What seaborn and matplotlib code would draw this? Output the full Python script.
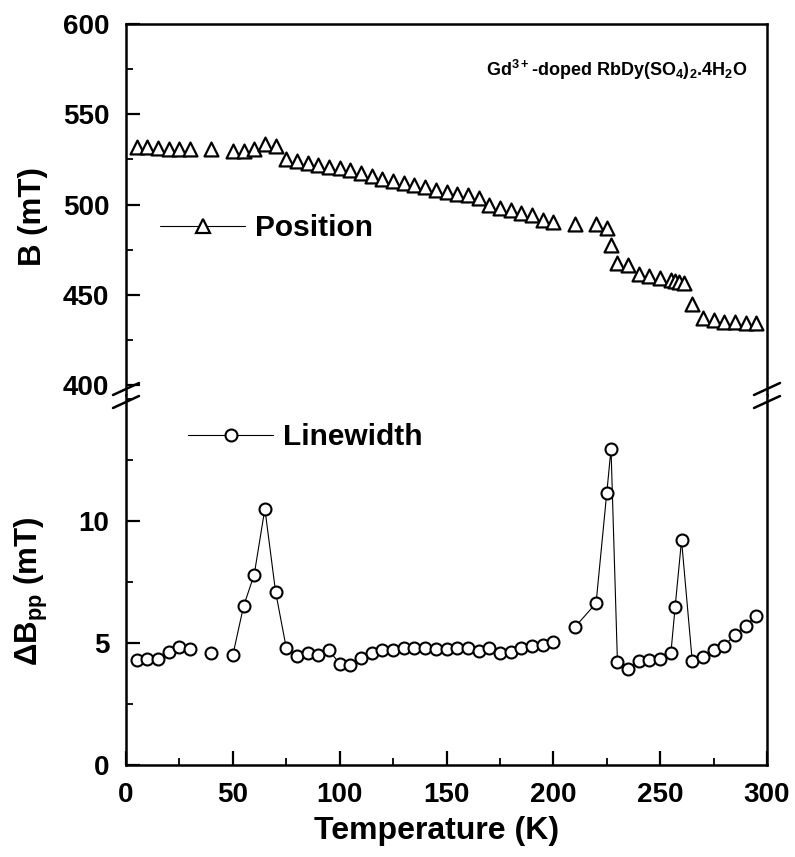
import numpy as np
import pandas as pd
import seaborn as sns
import matplotlib.pyplot as plt
from matplotlib.lines import Line2D
from matplotlib.ticker import MultipleLocator

# resonance position (top panel)
temp_pos = [5, 10, 15, 20, 25, 30, 40, 50, 55, 60, 65, 70, 75, 80, 85, 90, 95,
            100, 105, 110, 115, 120, 125, 130, 135, 140, 145, 150, 155, 160, 165,
            170, 175, 180, 185, 190, 195, 200, 210, 220, 225, 227, 230, 235, 240,
            245, 250, 255, 257, 259, 261, 265, 270, 275, 280, 285, 290, 295]
b_pos = [532, 532, 531.5, 531, 531, 530.5, 530.5, 529.5, 529.5, 531, 533.5, 532.5,
         525, 524, 523, 522, 521, 520.5, 519, 517.2, 515.7, 514.3, 513, 512, 510.7,
         509.6, 508.3, 507, 506, 505.2, 503.7, 500, 498, 496.8, 495.4, 494, 491.7,
         490.5, 489.4, 489, 487, 477.8, 467.6, 466.7, 461.7, 460.6, 459.3, 458.3,
         457.4, 456.9, 456.5, 445, 437, 436, 435, 434.8, 434.6, 434.3]

# peak-to-peak linewidth (bottom panel)
temp_lw = [5, 10, 15, 20, 25, 30, 40, 50, 55, 60, 65, 70, 75, 80, 85, 90, 95,
           100, 105, 110, 115, 120, 125, 130, 135, 140, 145, 150, 155, 160, 165,
           170, 175, 180, 185, 190, 195, 200, 210, 220, 225, 227, 230, 235, 240,
           245, 250, 255, 257, 260, 265, 270, 275, 280, 285, 290, 295]
dbpp = [4.3, 4.35, 4.35, 4.65, 4.85, 4.75, 4.6, 4.5, 6.5, 7.8, 10.5, 7.1, 4.8,
        4.45, 4.6, 4.5, 4.7, 4.15, 4.1, 4.4, 4.6, 4.7, 4.7, 4.8, 4.8, 4.8, 4.75,
        4.75, 4.78, 4.8, 4.68, 4.78, 4.57, 4.65, 4.78, 4.86, 4.92, 5.02, 5.64,
        6.63, 11.14, 12.95, 4.23, 3.93, 4.27, 4.3, 4.34, 4.57, 6.47, 9.21, 4.27,
        4.43, 4.71, 4.89, 5.33, 5.71, 6.12]
# the connecting line is interrupted at these temperatures
line_breaks = [35, 45, 205]

df_pos = pd.DataFrame({'T': temp_pos, 'B': b_pos})
df_lw = pd.DataFrame({'T': temp_lw, 'dB': dbpp})
df_lw['seg'] = np.digitize(df_lw['T'], line_breaks)

sns.set_theme(style='ticks')
plt.rcParams['font.family'] = ['Liberation Sans', 'DejaVu Sans']
plt.rcParams['font.weight'] = 'bold'
plt.rcParams['axes.labelweight'] = 'bold'
plt.rcParams['text.color'] = 'black'
plt.rcParams['axes.labelcolor'] = 'black'
plt.rcParams['mathtext.fontset'] = 'custom'
plt.rcParams['mathtext.rm'] = 'Liberation Sans:bold'
plt.rcParams['mathtext.bf'] = 'Liberation Sans:bold'
plt.rcParams['mathtext.default'] = 'bf'

fig = plt.figure(figsize=(7.95, 8.57), dpi=100)
W, H = 795, 857
left, right, top, brk, bottom = 126, 767, 24, 395, 765
ax_top = fig.add_axes([left / W, 1 - brk / H, (right - left) / W, (brk - top) / H])
ax_bot = fig.add_axes([left / W, 1 - bottom / H, (right - left) / W, (bottom - brk) / H])

mk = dict(markerfacecolor='white', markeredgecolor='black')

sns.scatterplot(data=df_pos, x='T', y='B', marker='^', s=100, facecolor='white',
                edgecolor='black', linewidth=1.6, ax=ax_top, legend=False, zorder=3)
sns.lineplot(data=df_lw, x='T', y='dB', units='seg', estimator=None, color='black',
             lw=0.8, marker='o', markersize=8.6, mew=1.5, ax=ax_bot, legend=False, **mk)

for ax in (ax_top, ax_bot):
    ax.set_xlim(0, 300)
    for s in ax.spines.values():
        s.set_linewidth(1.8)
        s.set_color('black')
    ax.tick_params(which='major', direction='in', length=10, width=1.6, labelsize=20,
                   pad=12, colors='black')
    ax.tick_params(which='minor', direction='in', length=5, width=1.3, colors='black')
    ax.tick_params(top=False, right=False, which='both')
    ax.set_xlabel('')
    ax.set_ylabel('')

ax_top.spines['bottom'].set_visible(False)
ax_top.tick_params(axis='x', which='both', bottom=False, labelbottom=False)
ax_top.set_ylim(394.5, 600)
ax_top.set_yticks([400, 450, 500, 550, 600])
ax_top.yaxis.set_minor_locator(MultipleLocator(25))

ax_bot.spines['top'].set_visible(False)
ax_bot.set_ylim(0, 15.16)
ax_bot.set_yticks([0, 5, 10])
ax_bot.yaxis.set_minor_locator(MultipleLocator(2.5))
ax_bot.xaxis.set_major_locator(MultipleLocator(50))
ax_bot.xaxis.set_minor_locator(MultipleLocator(25))

ax_top.set_ylabel('B (mT)', fontsize=22.5)
ax_top.yaxis.set_label_coords(-0.122, 0.48)
ax_bot.set_ylabel('ΔB$_\\mathbf{pp}$ (mT)', fontsize=22.5)
ax_bot.yaxis.set_label_coords(-0.119, 0.47)
ax_bot.set_xlabel('Temperature (K)', fontsize=23)
ax_bot.xaxis.set_label_coords(0.485, -0.138)

ax_top.text(0.97, 0.876,
            r'Gd$^\mathbf{3+}$-doped RbDy(SO$_\mathbf{4}$)$_\mathbf{2}$.4H$_\mathbf{2}$O',
            transform=ax_top.transAxes, ha='right', va='center', fontsize=13,
            fontweight='bold')

h_pos = Line2D([], [], color='black', lw=0.8, marker='^', markersize=10, mew=1.6, **mk)
h_lw = Line2D([], [], color='black', lw=0.8, marker='o', markersize=8.6, mew=1.5, **mk)
ax_top.legend([h_pos], ['Position'], loc='center left', bbox_to_anchor=(0.053, 0.45),
              frameon=False, borderpad=0, borderaxespad=0, handlelength=2.85,
              handletextpad=0.33, prop={'size': 21.5, 'weight': 'bold'})
ax_bot.legend([h_lw], ['Linewidth'], loc='center left', bbox_to_anchor=(0.097, 0.886),
              frameon=False, borderpad=0, borderaxespad=0, handlelength=2.85,
              handletextpad=0.33, prop={'size': 21.5, 'weight': 'bold'})

# axis-break marks on both vertical spines
for xb in (left, right):
    for yb in (389, 402):
        fig.add_artist(Line2D([(xb - 13) / W, (xb + 13) / W],
                              [1 - (yb + 6) / H, 1 - (yb - 6) / H],
                              color='black', lw=1.8))

fig.savefig('out.png', dpi=100)
